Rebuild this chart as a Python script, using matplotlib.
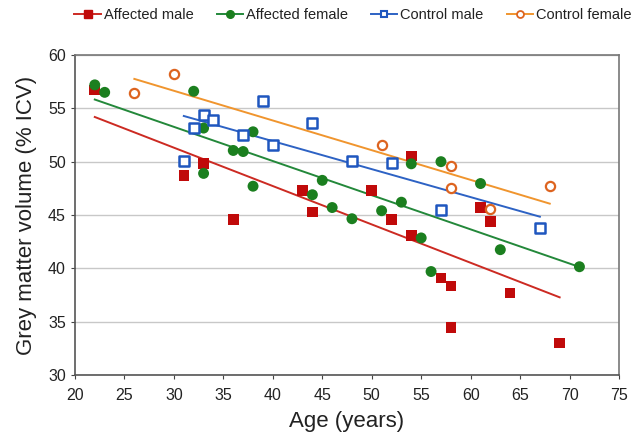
import numpy as np
import matplotlib
matplotlib.use("Agg")
import matplotlib.pyplot as plt
from matplotlib.lines import Line2D

plt.rcParams['font.family'] = ['Liberation Sans', 'DejaVu Sans']

# ---- data ----
am_age = [22, 31, 33, 36, 43, 44, 50, 52, 54, 54, 57, 58, 58, 61, 62, 64, 69]
am_gmv = [56.7, 48.7, 49.85, 44.6, 47.3, 45.3, 47.3, 44.6, 50.55, 43.1, 39.1, 38.35, 34.45, 45.7, 44.4, 37.7, 33.0]

af_age = [22, 23, 32, 33, 33, 36, 37, 38, 38, 44, 45, 46, 48, 51, 53, 54, 55, 56, 57, 61, 63, 71]
af_gmv = [57.2, 56.5, 56.6, 53.15, 48.9, 51.05, 50.95, 52.8, 47.7, 46.9, 48.25, 45.7, 44.65, 45.4, 46.2, 49.8, 42.85, 39.7, 50.0, 47.95, 41.75, 40.15]

cm_age = [31, 32, 33, 34, 37, 39, 40, 44, 48, 52, 57, 67]
cm_gmv = [50.05, 53.15, 54.35, 53.95, 52.5, 55.7, 51.55, 53.65, 50.1, 49.85, 45.5, 43.8]

cf_age = [26, 30, 51, 58, 58, 62, 68]
cf_gmv = [56.45, 58.25, 51.55, 49.6, 47.5, 45.6, 47.75]

labels = ['Affected male', 'Affected female', 'Control male', 'Control female']
x_ticks = [20, 25, 30, 35, 40, 45, 50, 55, 60, 65, 70, 75]
y_ticks = [30, 35, 40, 45, 50, 55, 60]

# ---- styles ----
mk_cols = ['#C00A0A', '#1B7F1F', '#1F56BF', '#DD6420']
ln_cols = ['#CC2A22', '#23883A', '#2D62C4', '#F0952E']

fig = plt.figure(figsize=(6.38, 4.47), dpi=100)
ax = fig.add_axes([75/638, 1-375/447, (619-75)/638, (375-55)/447])

groups = [(am_age, am_gmv), (af_age, af_gmv), (cm_age, cm_gmv), (cf_age, cf_gmv)]
marker_kw = [
    dict(marker='s', s=58, c=mk_cols[0], edgecolors='none'),
    dict(marker='o', s=62, c=mk_cols[1], edgecolors='none'),
    dict(marker='s', s=48, facecolors='white', edgecolors=mk_cols[2], linewidths=1.8),
    dict(marker='o', s=44, facecolors='white', edgecolors=mk_cols[3], linewidths=1.6),
]

for i, ((xa, ya), kw) in enumerate(zip(groups, marker_kw)):
    xa = np.array(xa, float)
    ya = np.array(ya, float)
    k, b = np.polyfit(xa, ya, 1)
    xs = np.array([xa.min(), xa.max()])
    ax.plot(xs, k * xs + b, color=ln_cols[i], lw=1.4, zorder=2)

for i, ((xa, ya), kw) in enumerate(zip(groups, marker_kw)):
    ax.scatter(xa, ya, zorder=3 + i, **kw)

ax.set_xlim(20, 75)
ax.set_ylim(30, 60)
ax.set_xticks(x_ticks)
ax.set_yticks(y_ticks)
ax.set_xticklabels([str(t) for t in x_ticks])
ax.set_yticklabels([str(t) for t in y_ticks])
ax.grid(axis='y', color='#C8C8C8', lw=1.0)
ax.set_axisbelow(True)
for s in ['top', 'right']:
    ax.spines[s].set_color('#777777')
    ax.spines[s].set_linewidth(1.2)
for s in ['left', 'bottom']:
    ax.spines[s].set_color('#555555')
    ax.spines[s].set_linewidth(1.2)
ax.tick_params(axis='both', labelsize=11.5, colors='#444444', labelcolor='#222222', length=3, width=0.8)
ax.tick_params(axis='x', pad=6)
ax.set_xlabel('Age (years)', fontsize=16, color='#222222', labelpad=6)
ax.set_ylabel('Grey matter volume (% ICV)', fontsize=16, color='#222222', labelpad=8)

handles = [
    Line2D([], [], color=ln_cols[0], lw=1.4, marker='s', ms=5.5, mfc=mk_cols[0], mec=mk_cols[0]),
    Line2D([], [], color=ln_cols[1], lw=1.4, marker='o', ms=5.5, mfc=mk_cols[1], mec=mk_cols[1]),
    Line2D([], [], color=ln_cols[2], lw=1.4, marker='s', ms=5, mfc='white', mec=mk_cols[2], mew=1.5),
    Line2D([], [], color=ln_cols[3], lw=1.4, marker='o', ms=5, mfc='white', mec=mk_cols[3], mew=1.3),
]
fig.legend(handles, labels, loc='center', bbox_to_anchor=(353/638, 1-15/447), ncol=4,
           frameon=False, fontsize=10.5, handlelength=1.8, handletextpad=0.2,
           columnspacing=1.6, labelcolor='#222222')

fig.savefig('out.png', dpi=100)
